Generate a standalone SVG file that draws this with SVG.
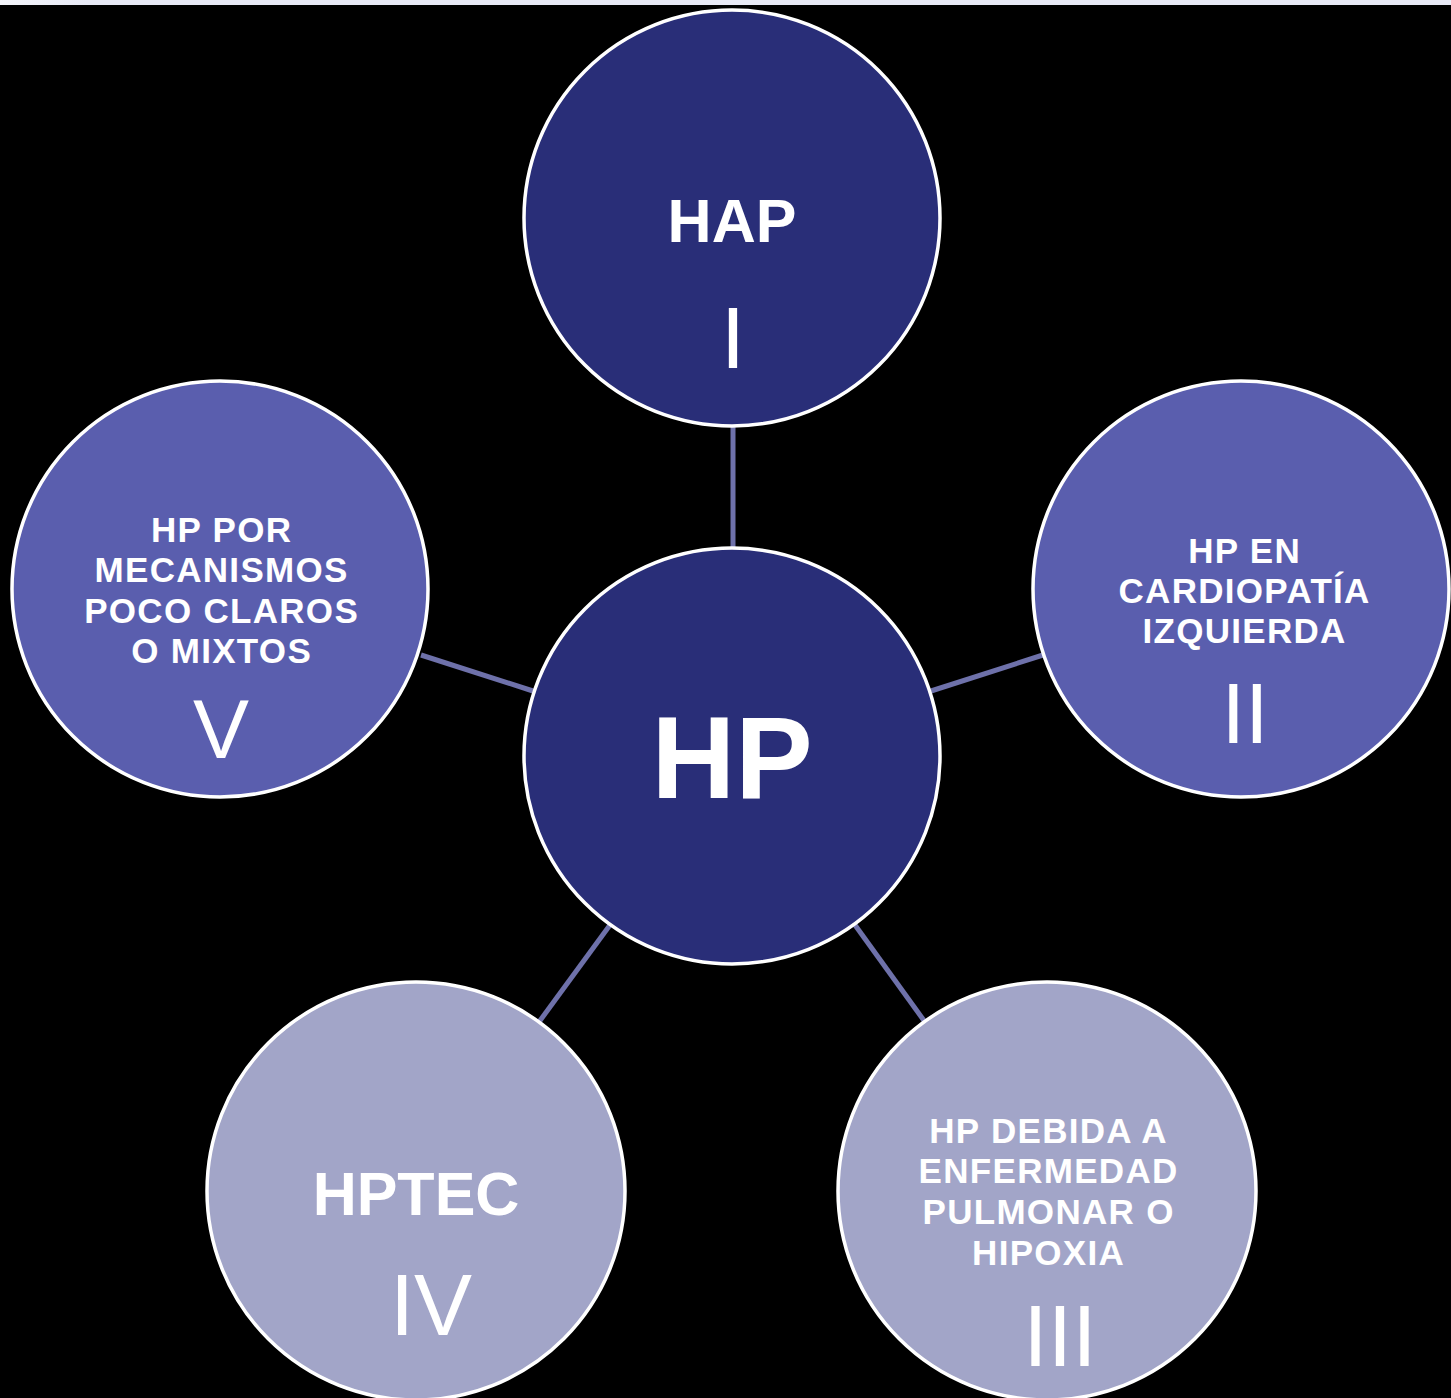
<svg xmlns="http://www.w3.org/2000/svg" width="1451" height="1398" viewBox="0 0 1451 1398">
<defs>
<linearGradient id="strip" x1="0" y1="0" x2="1" y2="0">
<stop offset="0" stop-color="#f4f5fb"/>
<stop offset="0.06" stop-color="#e8eaf6"/>
<stop offset="1" stop-color="#e8eaf6"/>
</linearGradient>
<style>
.node{stroke:#ffffff;stroke-width:3.5}
.dark{fill:#292e78}
.mid{fill:#5a5eae}
.light{fill:#a2a5c8}
.conn{stroke:#6e71aa;stroke-width:5;fill:none}
.lbl{font-family:"Liberation Sans",Arial,sans-serif;font-weight:bold;fill:#ffffff;text-anchor:middle}
.ml{letter-spacing:1.3px}
.num{font-family:"Liberation Sans",Arial,sans-serif;font-weight:normal;fill:#ffffff;text-anchor:middle}
</style>
</defs>
<rect x="0" y="0" width="1451" height="1398" fill="#000000"/>
<rect x="0" y="0" width="1451" height="5" fill="url(#strip)"/>
<g id="connectors">
<line class="conn" x1="733" y1="427" x2="733" y2="549"/>
<line class="conn" x1="931" y1="691" x2="1043" y2="655"/>
<line class="conn" x1="533" y1="691" x2="421" y2="655"/>
<line class="conn" x1="855" y1="925" x2="925" y2="1022"/>
<line class="conn" x1="610" y1="925" x2="539" y2="1022"/>
</g>
<g id="node-hap">
<circle class="node dark" cx="732" cy="218" r="208"/>
<text class="lbl" x="732" y="242" font-size="61">HAP</text>
<text class="num" x="733" y="368" font-size="88">I</text>
</g>
<g id="node-hp">
<circle class="node dark" cx="732" cy="756" r="208"/>
<text class="lbl" x="732" y="798" font-size="116">HP</text>
</g>
<g id="node-v">
<circle class="node mid" cx="220" cy="589" r="208"/>
<text class="lbl ml" font-size="35"><tspan x="221.6" y="542">HP POR</tspan><tspan x="221.6" y="582">MECANISMOS</tspan><tspan x="221.6" y="623">POCO CLAROS</tspan><tspan x="221.6" y="663">O MIXTOS</tspan></text>
<text class="num" x="221" y="758" font-size="84">V</text>
</g>
<g id="node-ii">
<circle class="node mid" cx="1241" cy="589" r="208"/>
<text class="lbl ml" font-size="35"><tspan x="1244.6" y="563">HP EN</tspan><tspan x="1244.6" y="603">CARDIOPATÍA</tspan><tspan x="1244.6" y="643">IZQUIERDA</tspan></text>
<text class="num" x="1245" y="743" font-size="85">II</text>
</g>
<g id="node-iii">
<circle class="node light" cx="1047" cy="1191" r="209"/>
<text class="lbl ml" font-size="35"><tspan x="1048.6" y="1143">HP DEBIDA A</tspan><tspan x="1048.6" y="1183">ENFERMEDAD</tspan><tspan x="1048.6" y="1224">PULMONAR O</tspan><tspan x="1048.6" y="1265">HIPOXIA</tspan></text>
<text class="num" x="1060" y="1366" font-size="88">III</text>
</g>
<g id="node-iv">
<circle class="node light" cx="416" cy="1191" r="209"/>
<text class="lbl" x="416" y="1215" font-size="61">HPTEC</text>
<text class="num" x="431" y="1335" font-size="87">IV</text>
</g>
</svg>
